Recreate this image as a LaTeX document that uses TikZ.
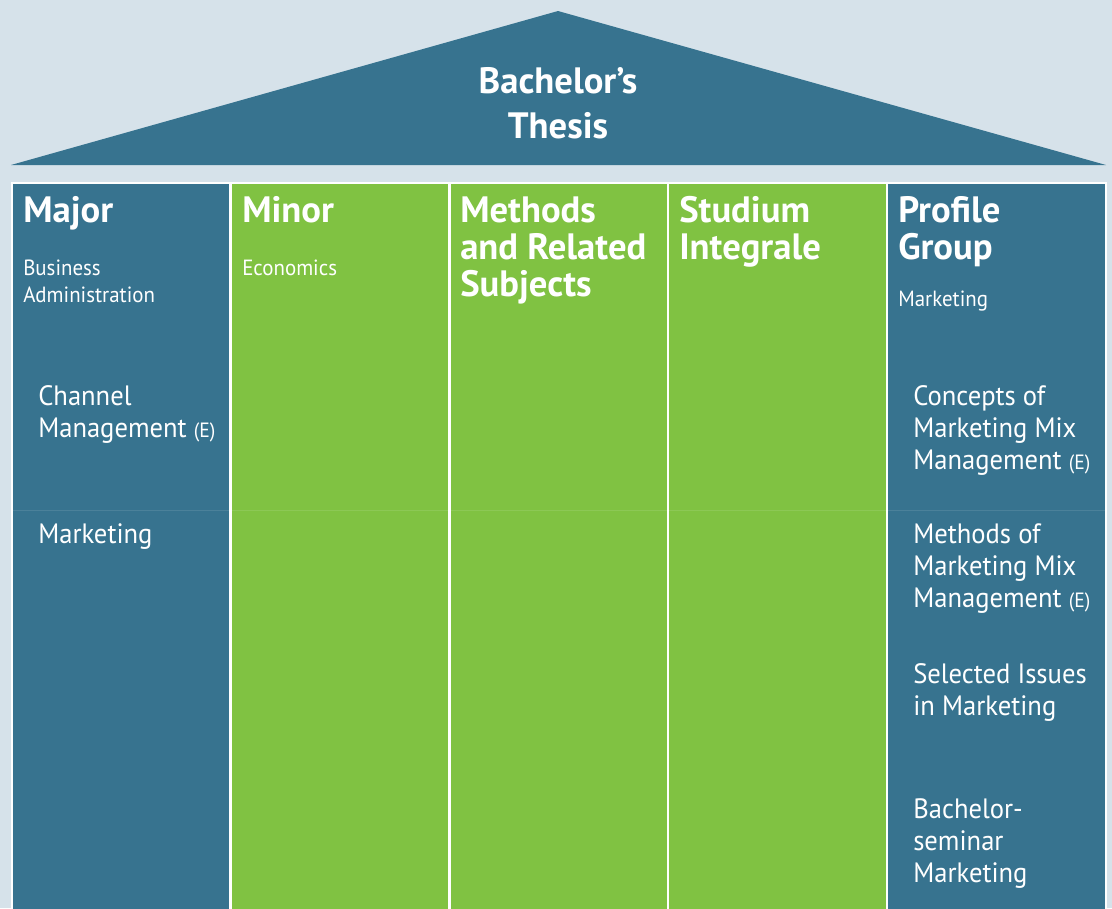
\documentclass[tikz,border=0pt]{standalone}
\usepackage{fontspec}
\setmainfont{PT Sans}[UprightFeatures={FakeStretch=0.95}]
\definecolor{bg}{HTML}{D6E2EA}
\definecolor{hblue}{HTML}{37738F}
\definecolor{hgreen}{HTML}{80C242}
\tikzset{
  head/.style={anchor=base west, inner sep=0pt, text=white, align=left, font=\bfseries\fontsize{27.5}{27.75}\selectfont},
  sub/.style={anchor=base west, inner sep=0pt, text=white, align=left, font=\fontsize{16.5}{20.25}\selectfont},
  body/.style={anchor=base west, inner sep=0pt, text=white, align=left, font=\fontsize{21}{24}\selectfont},
  colbox/.style={inner sep=0pt, minimum width=162.45pt, minimum height=545pt, anchor=north west}
}
\newcommand{\ee}{{\fontsize{15.5}{24}\selectfont(E)}}
\begin{document}
\begin{tikzpicture}[x=0.75pt,y=-0.75pt]
\useasboundingbox (0,0) rectangle (1112,908);
\fill[bg] (0,0) rectangle (1112,908);
% roof
\fill[hblue] (11,165) -- (558,11) -- (1106,165) -- cycle;
\node[anchor=base, inner sep=0pt, text=white, align=center, font=\bfseries\fontsize{27.5}{33.75}\selectfont] (roof) at (558,138) {Bachelor’s\\Thesis};
% frame
\fill[white] (10.5,182) rectangle (1107,908);
\node[colbox, fill=hblue]  (c1) at (12.5,184) {};
\node[colbox, fill=hgreen] (c2) at (231.4,184) {};
\node[colbox, fill=hgreen] (c3) at (450.3,184) {};
\node[colbox, fill=hgreen] (c4) at (669.2,184) {};
\node[colbox, fill=hblue]  (c5) at (888.1,184) {};
% faint divider
\foreach \c in {c1,c2,c3,c4,c5}{
  \draw[white, opacity=0.1, line width=0.75pt] (\c.west |- 0,510) -- (\c.east |- 0,510);
}
% headings (anchor = baseline of last line)
\node[head] (h1) at (23,222) {Major};
\node[head] (h2) at (242,222) {Minor};
\node[head] (h3) at (460,296) {Methods\\and Related\\Subjects};
\node[head] (h4) at (679,259) {Studium\\Integrale};
\node[head] (h5) at (898,259) {Profile\\Group};
% sub
\node[sub] (s1) at (23,302) {Business\\Administration};
\node[sub] (s2) at (242,275) {Economics};
\node[sub] (s5) at (898,306) {Marketing};
% body
\node[body] (b1) at (38,437) {Channel\\Management \ee};
\node[body] (b2) at (38,543) {Marketing};
\node[body] (p1) at (913,469) {Concepts of\\Marketing Mix\\Management \ee};
\node[body] (p2) at (913,607) {Methods of\\Marketing Mix\\Management \ee};
\node[body] (p3) at (913,715) {Selected Issues\\in Marketing};
\node[body] (p4) at (913,882) {Bachelor-\\seminar\\Marketing};
\end{tikzpicture}
\end{document}
